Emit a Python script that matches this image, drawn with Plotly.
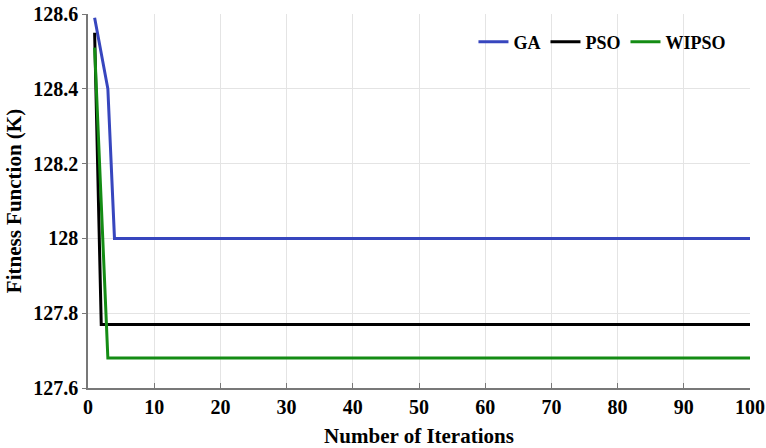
import plotly.graph_objects as go

# Convergence breakpoints (iteration, fitness) for each optimiser
ga_iter = [1, 3, 4, 100]
ga_fit = [128.59, 128.40, 128.00, 128.00]

pso_iter = [1, 2, 100]
pso_fit = [128.55, 127.77, 127.77]

wipso_iter = [1, 3, 100]
wipso_fit = [128.51, 127.68, 127.68]

x_ticks = [0, 10, 20, 30, 40, 50, 60, 70, 80, 90, 100]
y_ticks = [127.6, 127.8, 128.0, 128.2, 128.4, 128.6]
y_tick_text = ["127.6", "127.8", "128", "128.2", "128.4", "128.6"]

FONT = "Liberation Serif, Times New Roman, serif"

fig = go.Figure()
series = [
    ("GA", ga_iter, ga_fit, "rgb(55,70,190)"),
    ("PSO", pso_iter, pso_fit, "rgb(0,0,0)"),
    ("WIPSO", wipso_iter, wipso_fit, "rgb(20,140,20)"),
]
for name, xs, ys, color in series:
    fig.add_trace(go.Scatter(
        x=xs, y=ys, name=name, mode="lines",
        line=dict(color=color, width=3),
    ))

fig.update_layout(
    width=766, height=448,
    margin=dict(l=88, r=16, t=14, b=60),
    paper_bgcolor="white", plot_bgcolor="white",
    font=dict(family=FONT, size=20, color="black", weight="bold"),
    legend=dict(
        orientation="h", x=0.972, xanchor="right", y=0.925, yanchor="middle",
        font=dict(family=FONT, size=18, weight="bold"),
        bgcolor="rgba(255,255,255,0)", itemwidth=30, tracegroupgap=0,
    ),
    showlegend=True,
)

fig.update_xaxes(
    range=[0, 100], tickvals=x_ticks, automargin=False,
    showgrid=True, gridcolor="rgb(228,228,228)", gridwidth=1,
    showline=True, linecolor="rgb(120,120,120)", linewidth=1.5,
    ticks="inside", ticklen=5, tickcolor="rgb(120,120,120)",
    zeroline=False,
    title=dict(text="Number of Iterations", standoff=16,
               font=dict(family=FONT, size=21, weight="bold")),
)
fig.update_yaxes(
    range=[127.6, 128.6], tickvals=y_ticks, ticktext=y_tick_text,
    automargin=False,
    showgrid=True, gridcolor="rgb(228,228,228)", gridwidth=1,
    showline=True, linecolor="rgb(120,120,120)", linewidth=1.5,
    ticks="outside", ticklen=4, tickcolor="rgb(120,120,120)",
    zeroline=False,
    title=dict(text="Fitness Function (K)", standoff=6,
               font=dict(family=FONT, size=21, weight="bold")),
)

fig.write_html("out.html")
